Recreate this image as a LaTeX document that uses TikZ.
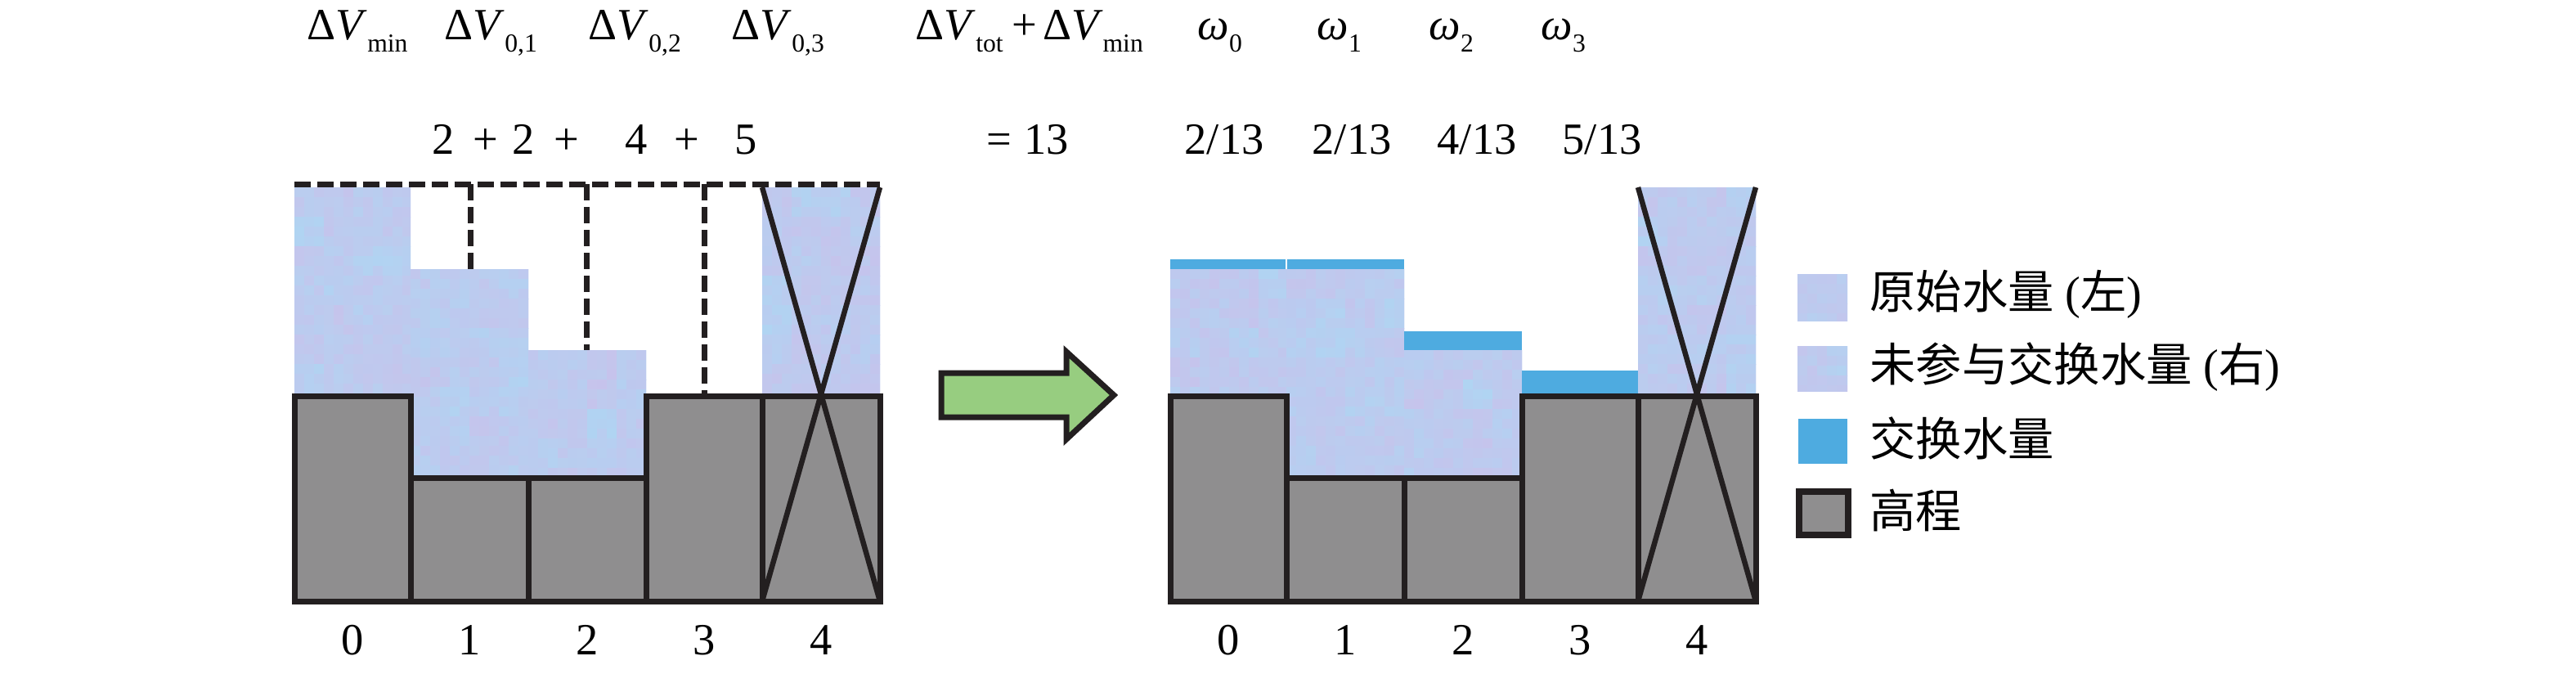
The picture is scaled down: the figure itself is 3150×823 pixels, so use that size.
\documentclass[tikz,border=0pt]{standalone}
\usepackage{fontspec}
\setmainfont{Liberation Serif}
\newfontfamily\cjk{Noto Sans CJK SC}
\definecolor{ground}{RGB}{143,142,143}
\definecolor{edge}{RGB}{35,31,32}
\definecolor{xchg}{RGB}{78,171,224}
\definecolor{arrowgreen}{RGB}{151,205,128}
\definecolor{wA}{RGB}{194,198,238}
\definecolor{wB}{RGB}{174,214,243}
\definecolor{wC}{RGB}{216,186,230}
\newcommand{\lowsub}[1]{\raisebox{-4.5pt}{\fontsize{9}{9}\selectfont #1}}
\newcommand{\dV}{Δ\textit{V}}
\newcommand{\watertex}[4]{%
  \begin{scope}
    \clip (#1,#2) rectangle (#3,#4);
    \pgfmathtruncatemacro\mx{(#3-#1)/36}
    \pgfmathtruncatemacro\my{(#4-#2)/36}
    \foreach \ci in {0,...,\mx}{
      \foreach \cj in {0,...,\my}{
        \pgfmathtruncatemacro\ra{rnd*100}
        \pgfmathtruncatemacro\rb{45+rnd*55}
        \fill[wA!\ra!wB!\rb!wC] ({#1+36*\ci},{#2+36*\cj}) rectangle +(36.5,36.5);
      }
    }
    \pgfmathtruncatemacro\nx{(#3-#1)/12}
    \pgfmathtruncatemacro\ny{(#4-#2)/12}
    \foreach \ci in {0,...,\nx}{
      \foreach \cj in {0,...,\ny}{
        \pgfmathtruncatemacro\ra{rnd*100}
        \fill[wA!\ra!wB, opacity=0.5] ({#1+12*\ci},{#2+12*\cj}) rectangle +(12,12);
      }
    }
  \end{scope}}
\begin{document}
\begin{tikzpicture}[x=0.01cm, y=-0.01cm, line join=miter,
  every node/.style={font=\fontsize{15.5}{18}\selectfont, inner sep=0pt},
  gnd/.style={fill=ground, draw=edge, line width=0.07cm},
  xline/.style={draw=edge, line width=0.065cm},
  dashline/.style={draw=edge, line width=0.07cm, dash pattern=on 0.2cm off 0.08cm},
  legtext/.style={anchor=west, font=\fontsize{16}{18}\selectfont}]
\pgfmathsetseed{42}
\useasboundingbox (0,0) rectangle (3150,823);

% ---------- top formulas ----------
\node[anchor=base west] (h1) at (375,48) {\dV\lowsub{min}};
\node[anchor=base west] (h2) at (543,48) {\dV\lowsub{0,1}};
\node[anchor=base west] (h3) at (719,48) {\dV\lowsub{0,2}};
\node[anchor=base west] (h4) at (894,48) {\dV\lowsub{0,3}};
\node[anchor=base west] (h5) at (1119,48) {\dV\lowsub{tot}\hspace{3pt}+\hspace{2pt}\dV\lowsub{min}};
\node[anchor=base west] (w0) at (1464,48) {\textit{ω}\lowsub{0}};
\node[anchor=base west] (w1) at (1610,48) {\textit{ω}\lowsub{1}};
\node[anchor=base west] (w2) at (1747,48) {\textit{ω}\lowsub{2}};
\node[anchor=base west] (w3) at (1884,48) {\textit{ω}\lowsub{3}};

\foreach \t/\x [count=\k] in {2/528, +/578, 2/626, +/677, 4/764, +/824, 5/898, =/1206, 13/1252}
  \node[anchor=base west] (s\k) at (\x,188) {\t};
\node[anchor=base west] (f0) at (1448,188) {2/13};
\node[anchor=base west] (f1) at (1604,188) {2/13};
\node[anchor=base west] (f2) at (1757,188) {4/13};
\node[anchor=base west] (f3) at (1910,188) {5/13};

% ---------- left diagram ----------
\begin{scope}[shift={(360,0)}]
  \watertex{0}{229}{142}{484}
  \watertex{142}{329}{286}{584}
  \watertex{286}{428}{430}{584}
  \watertex{572}{229}{716}{484}
  \draw[gnd] (0,484) rectangle (142,735);
  \draw[gnd] (142,584) rectangle (286,735);
  \draw[gnd] (286,584) rectangle (430,735);
  \draw[gnd] (430,484) rectangle (572,735);
  \draw[gnd] (572,484) rectangle (716,735);
  \draw[xline] (572,229) -- (716,735);
  \draw[xline] (716,229) -- (572,735);
  \draw[dashline] (0,225) -- (716,225);
  \draw[dashline] (215,225) -- (215,329);
  \draw[dashline] (357,225) -- (357,428);
  \draw[dashline] (501,225) -- (501,484);
  \foreach \n/\x in {0/71, 1/214, 2/358, 3/501, 4/644}
    \node[anchor=base] (la\n) at (\x,800) {\n};
\end{scope}

% ---------- arrow ----------
\draw[fill=arrowgreen, draw=edge, line width=0.07cm]
  (1151,456) -- (1304,456) -- (1304,430) -- (1362,483) -- (1304,537) -- (1304,510) -- (1151,510) -- cycle;

% ---------- right diagram ----------
\begin{scope}[shift={(1431,0)}]
  \watertex{0}{329}{142}{484}
  \watertex{142}{329}{286}{584}
  \watertex{286}{428}{430}{584}
  \watertex{572}{229}{716}{484}
  \fill[xchg] (0,317) rectangle (141,329);
  \fill[xchg] (143,317) rectangle (286,329);
  \fill[xchg] (286,405) rectangle (430,428);
  \fill[xchg] (430,453) rectangle (572,484);
  \draw[gnd] (0,484) rectangle (142,735);
  \draw[gnd] (142,584) rectangle (286,735);
  \draw[gnd] (286,584) rectangle (430,735);
  \draw[gnd] (430,484) rectangle (572,735);
  \draw[gnd] (572,484) rectangle (716,735);
  \draw[xline] (572,229) -- (716,735);
  \draw[xline] (716,229) -- (572,735);
  \foreach \n/\x in {0/71, 1/214, 2/358, 3/501, 4/644}
    \node[anchor=base] (lb\n) at (\x,800) {\n};
\end{scope}

% ---------- legend ----------
\watertex{2198}{335}{2259}{392}
\watertex{2198}{423}{2259}{478}
\fill[xchg] (2199,512) rectangle (2259,567);
\draw[fill=ground, draw=edge, line width=0.08cm] (2200,601) rectangle (2260,654);
\node[legtext] (g1) at (2286,360) {{\cjk 原始水量} ({\cjk 左})};
\node[legtext] (g2) at (2286,449) {{\cjk 未参与交换水量} ({\cjk 右})};
\node[legtext] (g3) at (2286,536) {\cjk 交换水量};
\node[legtext] (g4) at (2286,624) {\cjk 高程};
\end{tikzpicture}
\end{document}
